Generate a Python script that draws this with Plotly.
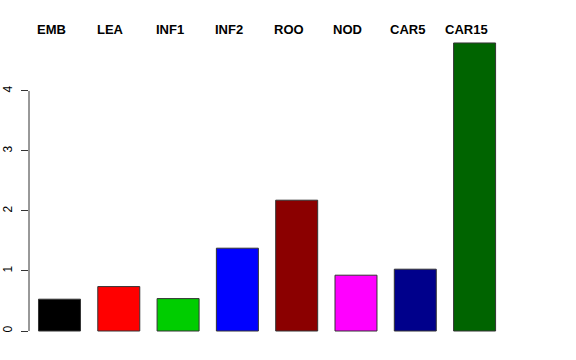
import plotly.graph_objects as go

categories = ["EMB", "LEA", "INF1", "INF2", "ROO", "NOD", "CAR5", "CAR15"]
values = [0.53, 0.74, 0.54, 1.38, 2.18, 0.93, 1.03, 4.80]
colors = ["#000000", "#FF0000", "#00CD00", "#0000FF", "#8B0000", "#FF00FF", "#00008B", "#006400"]
y_ticks = [0, 1, 2, 3, 4]

xpos = list(range(len(categories)))

fig = go.Figure()
fig.add_trace(go.Bar(
    x=xpos, y=values, width=0.708,
    marker=dict(color=colors, line=dict(color="#333333", width=1)),
    showlegend=False, hoverinfo="skip",
))

for i, c in enumerate(categories):
    fig.add_annotation(x=i, y=5.017, xref="x", yref="y", text=f"<b>{c}</b>",
                       showarrow=False, xshift=-8, yanchor="middle",
                       font=dict(family="Liberation Sans, Arial, sans-serif", size=13, color="black"))

fig.add_shape(type="line", xref="paper", yref="y", x0=0, x1=0, y0=0, y1=4,
              line=dict(color="#333333", width=1))

fig.update_layout(
    width=576, height=360,
    margin=dict(l=29, r=0, t=20, b=10),
    paper_bgcolor="white", plot_bgcolor="white",
    font=dict(family="Liberation Sans, Arial, sans-serif", size=12, color="black"),
    xaxis=dict(range=[-0.514, 8.710], visible=False, showgrid=False, zeroline=False),
    yaxis=dict(range=[-0.3167, 5.183], tickvals=y_ticks, ticktext=[str(t) for t in y_ticks],
               ticks="outside", ticklen=7, tickcolor="#333333", tickwidth=1,
               tickangle=-90, showgrid=False, zeroline=False, showline=False,
               tickfont=dict(size=12, color="black"), ticklabelstandoff=4),
)

fig.write_html("out.html")
